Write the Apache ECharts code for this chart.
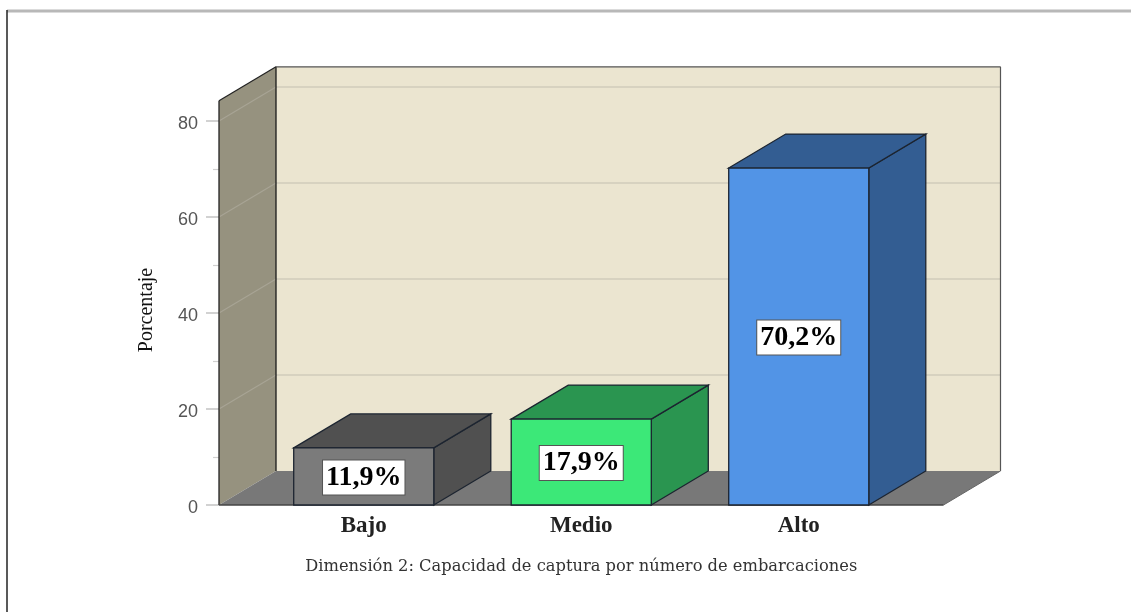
<!DOCTYPE html>
<html><head><meta charset="utf-8">
<style>html,body{margin:0;padding:0;background:#fff}#c{width:1131px;height:612px}</style>
<script src="https://cdn.jsdelivr.net/npm/echarts@6/dist/echarts.min.js"></script>
</head><body><div id="c"></div>
<script>
var categories = ['Bajo', 'Medio', 'Alto'];
var values = [11.9, 17.9, 70.2];
var frontColors = ['#7b7b7b', '#3ce878', '#5294e6'];
var darkColors = ['#505050', '#2a9550', '#335d92'];
var gridValues = [20, 40, 60, 80];
var wallTop = 84.2;
var yAxisName = 'Porcentaje';
var xAxisName = 'Dimensión 2: Capacidad de captura por número de embarcaciones';

var DX = 57, DY = 34, SIDE = 36, BAR_RATIO = 0.644;
var EDGE = '#1c2430';
function poly(pts, fill, stroke, lw) {
  return { type: 'polygon', shape: { points: pts }, style: { fill: fill, stroke: stroke || null, lineWidth: lw || 0 }, silent: true };
}
function line(x1, y1, x2, y2, c, w) {
  return { type: 'line', shape: { x1: x1, y1: y1, x2: x2, y2: y2 }, style: { stroke: c, lineWidth: w }, silent: true };
}
function renderRoom(params, api) {
  var band = api.size([1, 0])[0];
  var l = api.coord([0, 0])[0] - band / 2 - SIDE;
  var r = api.coord([categories.length - 1, 0])[0] + band / 2 + SIDE;
  var y0 = api.coord([0, 0])[1];
  var yt = api.coord([0, wallTop])[1];
  var ch = [
    poly([[l + DX, yt - DY], [r + DX, yt - DY], [r + DX, y0 - DY], [l + DX, y0 - DY]], '#ebe5d0'),
    poly([[l, yt], [l + DX, yt - DY], [l + DX, y0 - DY], [l, y0]], '#96927f'),
    poly([[l, y0], [l + DX, y0 - DY], [r + DX, y0 - DY], [r, y0]], '#787878')
  ];
  gridValues.forEach(function (v) {
    var y = api.coord([0, v])[1];
    ch.push(line(l + DX, y - DY, r + DX, y - DY, '#d0cbbb', 1.5));
    ch.push(line(l, y, l + DX, y - DY, '#a8a495', 1.1));
  });
  ch.push(line(l + DX, y0 - DY, l + DX, yt - DY, '#1a1a1a', 1.3));
  ch.push(line(l, y0, l, yt, '#222', 1.3));
  ch.push(line(l, yt, l + DX, yt - DY, '#222', 1.2));
  ch.push(line(l + DX, yt - DY, r + DX, yt - DY, '#555', 1.2));
  ch.push(line(r + DX, yt - DY, r + DX, y0 - DY, '#555', 1.2));
  ch.push(line(l, y0, r, y0, '#444', 1.5));
  ch.push(line(r, y0, r + DX, y0 - DY, '#666', 1));
  return { type: 'group', children: ch };
}
function renderBar(params, api) {
  var i = api.value(0), v = api.value(1);
  var band = api.size([1, 0])[0], w = band * BAR_RATIO;
  var c = api.coord([i, v]), b = api.coord([i, 0]);
  var x1 = c[0] - w / 2, x2 = c[0] + w / 2, yt = c[1], yb = b[1];
  var f = frontColors[i], d = darkColors[i];
  var txt = v.toFixed(1).replace('.', ',') + '%';
  return { type: 'group', children: [
    poly([[x2, yb], [x2 + DX, yb - DY], [x2 + DX, yt - DY], [x2, yt]], d, EDGE, 1.3),
    poly([[x1, yt], [x1 + DX, yt - DY], [x2 + DX, yt - DY], [x2, yt]], d, EDGE, 1.3),
    poly([[x1, yb], [x2, yb], [x2, yt], [x1, yt]], f, EDGE, 1.3),
    { type: 'text', silent: true, x: c[0], y: (yt + yb) / 2 + 1, style: {
      text: txt, fill: '#000', font: 'bold 28px "Liberation Serif"', align: 'center', verticalAlign: 'middle',
      backgroundColor: '#fff', borderColor: '#555', borderWidth: 1, padding: [3, 3, 3, 3] } }
  ] };
}
var chart = echarts.init(document.getElementById('c'), null, { renderer: 'canvas' });
chart.setOption({
  animation: false,
  backgroundColor: '#fff',
  grid: { left: 255, right: 223.5, top: 121, bottom: 107 },
  xAxis: {
    type: 'category', data: categories,
    axisLine: { show: false }, axisTick: { show: false },
    axisLabel: { color: '#222', fontFamily: 'Liberation Serif', fontWeight: 'bold', fontSize: 23, margin: 10 },
    name: xAxisName, nameLocation: 'middle', nameGap: 54,
    nameTextStyle: { color: '#333', fontFamily: 'DejaVu Serif', fontSize: 16.3 }
  },
  yAxis: {
    type: 'value', min: 0, max: 80, interval: 20, offset: 36,
    axisLine: { show: false },
    axisTick: { show: true, length: 13, lineStyle: { color: '#c4c4c4', width: 1.5 } },
    minorTick: { show: true, splitNumber: 2, length: 6, lineStyle: { color: '#d0d0d0', width: 1.2 } },
    splitLine: { show: false },
    axisLabel: { color: '#555', fontFamily: 'Liberation Sans', fontSize: 18, margin: 21, verticalAlign: 'top', lineHeight: 6 },
    name: yAxisName, nameLocation: 'middle', nameGap: 62, nameRotate: 90,
    nameTextStyle: { color: '#111', fontFamily: 'Liberation Serif', fontSize: 20, padding: [0, 0, 0, 6] }
  },
  series: [
    { type: 'custom', renderItem: renderRoom, data: [[0, 0]], clip: false, z: 1, silent: true, encode: { x: 0, y: 1 } },
    { type: 'custom', renderItem: renderBar, data: values.map(function (v, i) { return [i, v]; }), clip: false, z: 2, silent: true, encode: { x: 0, y: 1 } }
  ],
  graphic: [
    { type: 'line', shape: { x1: 7, y1: 11, x2: 1131, y2: 11 }, style: { stroke: '#b8b8b8', lineWidth: 3 }, silent: true },
    { type: 'line', shape: { x1: 7, y1: 10, x2: 7, y2: 612 }, style: { stroke: '#222', lineWidth: 1.5 }, silent: true }
  ]
});
</script></body></html>
